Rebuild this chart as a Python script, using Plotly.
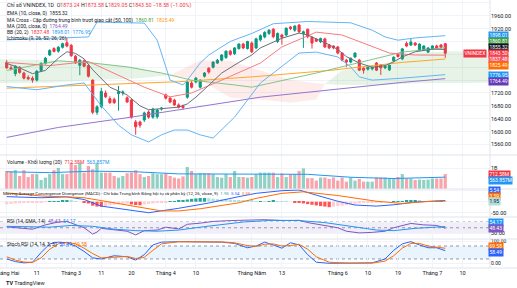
import pandas as pd
import plotly.graph_objects as go
from plotly.subplots import make_subplots

# ---------------- calendar (trading days) ----------------
HOLIDAYS = ["2026-02-16", "2026-02-17", "2026-02-18", "2026-02-19", "2026-02-20",
            "2026-04-27", "2026-04-30", "2026-05-01"]
cal = [d.strftime("%Y-%m-%d") for d in pd.bdate_range("2026-01-26", "2026-07-31")]
cal = [d for d in cal if d not in HOLIDAYS]
FIRST = cal.index("2026-02-02")


def pos(date_str):
    """trading-day position of a date (0 = first candle)"""
    return cal.index(date_str) - FIRST


# ---------------- price data ----------------
open_ = [1815, 1798, 1780, 1800, 1782, 1768, 1766, 1760, 1790, 1812, 1838, 1858, 1850, 1862, 1876, 1868, 1834, 1806,
         1820, 1805, 1760, 1660, 1678, 1720, 1702, 1700, 1718, 1720, 1705, 1698, 1630, 1630, 1636, 1661, 1645, 1646,
         1670, 1714, 1704, 1698, 1683, 1680, 1707, 1751, 1754, 1738, 1772, 1797, 1800, 1813, 1822, 1830, 1850, 1842,
         1858, 1872, 1858, 1875, 1860, 1885, 1894, 1905, 1918, 1880, 1900, 1900, 1925, 1915, 1931, 1905, 1918, 1893,
         1887, 1879, 1888, 1869, 1866, 1863, 1844, 1822, 1816, 1832, 1822, 1797, 1794, 1795, 1813, 1807, 1798, 1792,
         1820, 1840, 1826, 1874, 1869, 1875, 1853, 1853, 1847, 1857, 1866, 1869, 1873.24]
high = [1822, 1806, 1806, 1803, 1786, 1775, 1772, 1790, 1815, 1832, 1856, 1862, 1866, 1876, 1892, 1872, 1838, 1826,
        1824, 1808, 1762, 1682, 1736, 1728, 1710, 1706, 1742, 1728, 1710, 1702, 1636, 1634, 1662, 1666, 1674, 1670,
        1676, 1718, 1708, 1702, 1688, 1684, 1758, 1758, 1770, 1762, 1785, 1800, 1818, 1826, 1840, 1852, 1854, 1862,
        1874, 1876, 1882, 1880, 1892, 1902, 1912, 1918, 1922, 1908, 1904, 1924, 1928, 1930, 1934, 1914, 1920, 1896,
        1890, 1892, 1892, 1872, 1868, 1866, 1846, 1826, 1830, 1846, 1826, 1800, 1802, 1802, 1816, 1810, 1806, 1808,
        1834, 1844, 1860, 1880, 1891, 1878, 1874, 1868, 1862, 1868, 1870, 1872, 1873.58]
low = [1795, 1790, 1772, 1780, 1762, 1760, 1752, 1756, 1786, 1808, 1835, 1846, 1845, 1858, 1862, 1832, 1810, 1775,
       1800, 1768, 1654, 1652, 1672, 1704, 1686, 1686, 1665, 1712, 1690, 1640, 1590, 1612, 1630, 1640, 1640, 1640,
       1665, 1700, 1688, 1680, 1672, 1668, 1702, 1734, 1750, 1734, 1768, 1780, 1796, 1810, 1818, 1826, 1836, 1838,
       1855, 1856, 1855, 1844, 1856, 1880, 1890, 1900, 1890, 1875, 1870, 1896, 1915, 1910, 1906, 1860, 1890, 1858,
       1878, 1875, 1860, 1856, 1856, 1840, 1818, 1800, 1812, 1828, 1788, 1780, 1790, 1790, 1788, 1776, 1794, 1788,
       1816, 1830, 1822, 1862, 1866, 1866, 1850, 1850, 1844, 1854, 1858, 1858, 1829.05]
close = [1798, 1794, 1803, 1784, 1766, 1764, 1760, 1788, 1812, 1828, 1852, 1849, 1862, 1873, 1866, 1836, 1814, 1822,
         1803, 1772, 1660, 1677, 1725, 1708, 1690, 1690, 1724, 1723, 1692, 1645, 1615, 1620, 1658, 1645, 1670, 1667,
         1673, 1704, 1692, 1683, 1676, 1675, 1754, 1738, 1766, 1760, 1782, 1785, 1816, 1822, 1838, 1850, 1840, 1860,
         1872, 1860, 1880, 1848, 1888, 1898, 1908, 1915, 1895, 1905, 1893, 1921, 1920, 1928, 1910, 1910, 1895, 1875,
         1881, 1889, 1863, 1860, 1860, 1844, 1822, 1816, 1828, 1844, 1791, 1791, 1800, 1800, 1791, 1798, 1803, 1806,
         1831, 1833, 1857, 1866, 1878, 1869, 1872, 1866, 1860, 1866, 1860, 1862.08, 1843.50]
volume_b = [0.86, 0.83, 0.9, 0.62, 0.9, 0.57, 0.71, 0.71, 0.43, 0.54, 0.71, 0.9, 1.0, 0.71, 0.71, 1.25, 1.14, 1.25,
            0.78, 1.1, 0.94, 1.25, 0.78, 0.78, 0.78, 0.62, 0.54, 0.62, 0.75, 0.78, 0.9, 0.71, 0.57, 0.62, 0.75, 0.71,
            0.71, 0.75, 0.62, 0.54, 0.5, 0.6, 1.05, 0.86, 0.71, 0.75, 0.75, 0.75, 0.71, 0.57, 0.54, 0.71, 0.57, 0.86,
            0.57, 0.57, 0.54, 0.57, 0.7, 0.78, 0.78, 0.78, 0.78, 0.57, 0.74, 0.57, 0.7, 0.7, 0.86, 0.98, 0.52, 0.52,
            0.4, 0.55, 0.55, 0.48, 0.55, 0.4, 0.55, 0.35, 0.55, 0.4, 0.48, 0.35, 0.35, 0.35, 0.55, 0.55, 0.55, 0.5,
            0.52, 0.57, 0.71, 0.5, 0.5, 0.43, 0.45, 0.43, 0.45, 0.5, 0.5, 0.5, 0.71258]
macd_hist = [-12, -10, -8, -7, -6, -5, -4, -3, -2, -1, 1, 2, 3, 4, 5, 4, 2, 0, -3, -8, -18, -22, -23, -20, -17, -14,
             -12, -10, -9, -12, -15, -16, -13, -10, -8, -6, -4, -2, 1, 3, 5, 7, 10, 13, 15, 17, 17, 16, 14, 12, 11, 10,
             9, 8, 7, 6, 5, 4, 3, 3, 2, 3, 4, 3, 2, 1, 0, -2, -5, -8, -11, -14, -17, -20, -22, -25, -23, -20, -18, -15,
             -12, -10, -8, -6, -5, -4, -3, -2, -1, 0, 1, 2, 3, 4, 4, 5, 4, 3, 3, 2, 2, 2, 1.95]

# ---------------- indicator lines (sampled: trading-day index, value) ----------------
ema10_idx = [0, 3, 6, 9, 12, 14, 16, 18, 20, 24, 28, 31, 33, 36, 40, 42, 44, 47, 50, 54, 57, 59, 64, 68, 70, 75, 77,
             79, 82, 85, 88, 90, 92, 95, 99, 102]
ema10_val = [1812, 1798, 1780, 1790, 1828, 1848, 1843, 1826, 1792, 1738, 1714, 1680, 1668, 1672, 1676, 1686, 1707,
             1744, 1782, 1815, 1838, 1860, 1890, 1906, 1900, 1870, 1855, 1833, 1813, 1800, 1805, 1817, 1832, 1848,
             1856, 1855.32]
ma50_idx = [0, 12, 20, 28, 36, 43, 53, 57, 72, 84, 92, 102]
ma50_val = [1790, 1820, 1813, 1801, 1782, 1760, 1745, 1738, 1782, 1822, 1847, 1860.81]
ma100_idx = [0, 20, 40, 57, 75, 92, 102]
ma100_val = [1735, 1745, 1755, 1770, 1790, 1815, 1825.49]
ma200_idx = [0, 12, 29, 59, 92, 102]
ma200_val = [1582, 1613, 1645, 1707, 1753, 1764.49]
bbu_idx = [0, 10, 19, 21, 32, 35, 38, 41, 42, 45, 47, 52, 57, 62, 70, 80, 85, 88, 91, 95, 102]
bbu_val = [1885, 1890, 1894, 1940, 1937, 1884, 1760, 1745, 1760, 1813, 1838, 1880, 1905, 1935, 1942, 1938, 1915, 1894,
           1884, 1891, 1898.01]
bbl_idx = [0, 7, 14, 18, 22, 26, 29, 33, 36, 39, 42, 45, 48, 53, 59, 66, 68, 72, 77, 80, 82, 85, 92, 102]
bbl_val = [1740, 1730, 1745, 1751, 1680, 1620, 1590, 1568, 1590, 1605, 1605, 1590, 1580, 1645, 1751, 1822, 1844, 1847,
           1832, 1801, 1770, 1760, 1766, 1776.95]
bbm_idx = [0, 10, 19, 22, 27, 32, 38, 43, 50, 59, 64, 72, 78, 84, 89, 95, 102]
bbm_val = [1815, 1805, 1818, 1800, 1770, 1738, 1708, 1720, 1760, 1813, 1863, 1909, 1900, 1869, 1844, 1838, 1837.48]
# Ichimoku cloud segments (span A, span B); shared points mark crossovers
cloud_green1_idx = [-2, 10, 20, 30, 38]
cloud_green1_a = [1825, 1822, 1815, 1800, 1775]
cloud_green1_b = [1750, 1752, 1760, 1765, 1775]
cloud_red_idx = [38, 45, 52, 59, 66, 72, 74]
cloud_red_a = [1775, 1760, 1705, 1700, 1690, 1700, 1748]
cloud_red_b = [1775, 1822, 1820, 1790, 1760, 1750, 1748]
cloud_green2_idx = [74, 78, 87, 95, 104, 113]
cloud_green2_a = [1748, 1790, 1805, 1845, 1850, 1848]
cloud_green2_b = [1748, 1745, 1745, 1750, 1752, 1752]

volma_idx = [0, 10, 20, 30, 40, 50, 60, 70, 80, 90, 102]
volma_val = [0.82, 0.78, 0.85, 0.82, 0.72, 0.72, 0.70, 0.70, 0.56, 0.50, 0.563857]
macd_idx = [0, 8, 14, 18, 22, 30, 33, 40, 47, 54, 58, 64, 68, 72, 77, 81, 86, 90, 95, 102]
macd_val = [23, 18, 22, 10, -20, -42, -50, -30, -6, 23, 38, 50, 53, 30, 2, -15, -20, -14, -2, 5.54]
sig_idx = [0, 8, 14, 18, 22, 30, 36, 40, 45, 54, 58, 64, 69, 77, 86, 92, 97, 102]
sig_val = [40, 26, 22, 18, 5, -23, -42, -42, -32, -5, 15, 38, 45, 28, 2, -8, 0, 3.59]
rsi_idx = [0, 3, 6, 9, 12, 14, 16, 18, 20, 21, 22, 25, 28, 30, 32, 35, 37, 40, 42, 45, 48, 52, 56, 60, 64, 68, 70, 74,
           77, 79, 82, 85, 88, 90, 92, 94, 97, 100, 102]
rsi_val = [53, 48, 45, 60, 70, 72, 62, 50, 28, 35, 48, 42, 38, 25, 40, 42, 52, 46, 62, 66, 72, 75, 76, 78, 75, 76, 68,
           58, 50, 38, 32, 34, 38, 50, 58, 65, 60, 58, 48.43]
rsima_idx = [0, 10, 15, 20, 25, 30, 35, 40, 45, 50, 55, 62, 68, 74, 80, 86, 90, 95, 102]
rsima_val = [55, 52, 58, 55, 45, 40, 38, 42, 52, 62, 70, 76, 75, 68, 56, 42, 40, 48, 54.17]
k_idx = [0, 2, 4, 6, 8, 10, 12, 14, 16, 18, 20, 22, 25, 28, 30, 32, 34, 36, 40, 45, 50, 53, 56, 58, 60, 62, 64, 66, 68,
         70, 72, 75, 80, 85, 88, 90, 92, 94, 96, 98, 100, 102]
k_val = [20, 8, 2, 5, 50, 90, 98, 95, 80, 55, 25, 20, 35, 30, 15, 40, 85, 98, 100, 100, 98, 92, 72, 80, 98, 85, 70, 95,
         85, 40, 5, 0, 0, 2, 20, 60, 90, 100, 85, 72, 72, 58.49]
d_idx = k_idx
d_val = [30, 15, 6, 4, 25, 65, 90, 97, 90, 70, 45, 25, 28, 32, 22, 28, 60, 90, 100, 100, 99, 95, 82, 78, 88, 90, 80, 82,
         88, 65, 30, 5, 0, 1, 10, 35, 70, 92, 92, 80, 75, 69.58]

# x-axis tick labels
tick_days = ["2026-02-02", "2026-02-11", "2026-03-02", "2026-03-11", "2026-03-20", "2026-04-01", "2026-04-10",
             "2026-05-04", "2026-05-13", "2026-06-01", "2026-06-10", "2026-06-19", "2026-07-01", "2026-07-10"]
tick_text = ["Tháng Hai", "11", "Tháng 3", "11", "20", "Tháng 4", "10", "Tháng Năm", "13", "Tháng 6", "10", "19",
             "Tháng 7", "10"]

# ---------------- styles ----------------
UP, DOWN = "#089981", "#f23645"
TXT = "#131722"
FONT = "Roboto"
W, H = 517, 288
PLOT_W, PLOT_H = 490, 268
PANES = [(0, 155), (155, 189), (189, 217), (217, 239), (239, 268)]

fig = make_subplots(rows=5, cols=1, shared_xaxes=True, vertical_spacing=0,
                    row_heights=[b - a for a, b in PANES])

xpos = list(range(len(close)))  # one slot per trading day


def line(idx, val, color, row, width=1.0):
    fig.add_trace(go.Scatter(x=idx, y=val, mode="lines", line=dict(color=color, width=width),
                             hoverinfo="skip"), row=row, col=1)


# Ichimoku cloud
for idx, a, b, col in [(cloud_green1_idx, cloud_green1_a, cloud_green1_b, "rgba(67,160,71,0.13)"),
                       (cloud_red_idx, cloud_red_a, cloud_red_b, "rgba(244,67,54,0.10)"),
                       (cloud_green2_idx, cloud_green2_a, cloud_green2_b, "rgba(67,160,71,0.13)")]:
    fig.add_trace(go.Scatter(x=idx + idx[::-1], y=a + b[::-1], fill="toself", fillcolor=col,
                             line=dict(width=0), mode="lines", hoverinfo="skip"), row=1, col=1)

line(ma200_idx, ma200_val, "#9575cd", 1)
line(ma100_idx, ma100_val, "#ffa726", 1)
line(ma50_idx, ma50_val, "#81c784", 1)
line(bbu_idx, bbu_val, "#64b5f6", 1)
line(bbl_idx, bbl_val, "#64b5f6", 1)
line(bbm_idx, bbm_val, "#f77c80", 1)
line(ema10_idx, ema10_val, "#6a6d78", 1)

fig.add_trace(go.Candlestick(x=xpos, open=open_, high=high, low=low, close=close,
                             increasing=dict(line=dict(color=UP, width=1), fillcolor=UP),
                             decreasing=dict(line=dict(color=DOWN, width=1), fillcolor=DOWN),
                             whiskerwidth=0, hoverinfo="skip"), row=1, col=1)

# volume
vol_colors = ["rgba(8,153,129,0.45)" if c >= o else "rgba(242,54,69,0.45)" for o, c in zip(open_, close)]
fig.add_trace(go.Bar(x=xpos, y=[v * 1e9 for v in volume_b], marker=dict(color=vol_colors, line=dict(width=0)),
                     hoverinfo="skip"), row=2, col=1)
line(volma_idx, [v * 1e9 for v in volma_val], "#2196f3", 2)

# MACD
hist_colors = []
for i, h in enumerate(macd_hist):
    prev = macd_hist[i - 1] if i else h
    if h >= 0:
        hist_colors.append("#26a69a" if h >= prev else "#b2dfdb")
    else:
        hist_colors.append("#ffcdd2" if h >= prev else "#ff5252")
fig.add_trace(go.Bar(x=xpos, y=macd_hist, marker=dict(color=hist_colors, line=dict(width=0)), hoverinfo="skip"),
              row=3, col=1)
line(macd_idx, macd_val, "#2962ff", 3)
line(sig_idx, sig_val, "#ff6d00", 3)

# RSI
line(rsi_idx, rsi_val, "#7e57c2", 4)
line(rsima_idx, rsima_val, "#2196f3", 4)

# Stoch RSI
line(k_idx, k_val, "#2962ff", 5)
line(d_idx, d_val, "#ff6d00", 5)

# ---------------- axes ----------------
fig.update_xaxes(range=[-1.56, 112.4], showgrid=True, gridcolor="#f0f3fa", gridwidth=1,
                 tickvals=[pos(t) for t in tick_days], ticktext=tick_text,
                 showline=False, zeroline=False, ticks="", rangeslider=dict(visible=False),
                 ticklabeloverflow="allow", automargin=False,
                 tickfont=dict(size=5.5, color=TXT, family=FONT))
for r in range(1, 5):
    fig.update_xaxes(showticklabels=False, row=r, col=1)

yax_common = dict(side="right", showgrid=True, gridcolor="#f0f3fa", zeroline=False, showline=False, ticks="",
                  automargin=False, tickfont=dict(size=5.5, color=TXT, family=FONT), fixedrange=True)
price_ticks = list(range(1560, 2001, 40))
price_text = ["" if 1750 < p < 1900 else f"{p:.2f}" for p in price_ticks]
fig.update_yaxes(range=[1527.4, 2008.8], tickvals=price_ticks, ticktext=price_text, row=1, col=1, **yax_common)
fig.update_yaxes(range=[0, 1.62e9], tickvals=[1e9], ticktext=["1B"], row=2, col=1, **yax_common)
fig.update_yaxes(range=[-69.5, 57.7], tickvals=[-50, 0, 50], ticktext=["-50.00", "", ""], row=3, col=1, **yax_common)
fig.update_yaxes(range=[10.9, 87.4], tickvals=[30, 70], ticktext=["30.00", ""], row=4, col=1, **yax_common)
fig.update_yaxes(range=[-21.8, 112.5], tickvals=[0, 50, 100], ticktext=["0.00", "", "100.00"], row=5, col=1,
                 **yax_common)
fig.update_yaxes(tickfont=dict(size=5), row=5, col=1)

shapes = []


def py(pix):
    return 1 - pix / PLOT_H


# band fills & dotted levels
for yref, lo, hi, col, levels in [("y4", 30, 70, "rgba(126,87,194,0.10)", [70, 50, 30]),
                                  ("y5", 20, 80, "rgba(33,150,243,0.10)", [80, 20])]:
    shapes.append(dict(type="rect", xref="x domain", yref=yref, x0=0, x1=1, y0=lo, y1=hi, fillcolor=col,
                       line=dict(width=0), layer="below"))
    for lv in levels:
        shapes.append(dict(type="line", xref="x domain", yref=yref, x0=0, x1=1, y0=lv, y1=lv,
                           line=dict(color="#9598a1", width=1, dash="dot"), layer="below"))
# pane separators
for a, b in PANES[1:]:
    shapes.append(dict(type="line", xref="paper", yref="paper", x0=0, x1=W / PLOT_W, y0=py(a), y1=py(a),
                       line=dict(color="#e0e3eb", width=1)))
shapes.append(dict(type="line", xref="paper", yref="paper", x0=0, x1=W / PLOT_W, y0=0, y1=0,
                   line=dict(color="#e0e3eb", width=1)))
shapes.append(dict(type="line", xref="paper", yref="paper", x0=1, x1=1, y0=0, y1=1,
                   line=dict(color="#e0e3eb", width=1)))

# ---------------- texts ----------------
ann = []


def span(t, c):
    return f"<span style='color:{c}'>{t}</span>"


def label(txt, ypix, xpix=5, size=5.0):
    ann.append(dict(text=txt, xref="paper", yref="paper", x=xpix / PLOT_W, y=py(ypix), xanchor="left",
                    yanchor="middle", showarrow=False, font=dict(size=size, color=TXT, family=FONT)))


chg = close[-1] - close[-2]
pct = chg / close[-2] * 100
R = DOWN if chg < 0 else UP
label("Chỉ số VNINDEX, 1D  " + " ".join(
    [f"{k}{span(f'{v:.2f}', R)}" for k, v in zip("OHLC", [open_[-1], high[-1], low[-1], close[-1]])])
      + " " + span(f"{chg:.2f} ({pct:.2f}%)".replace("-", "−"), R), 5.5, size=5.3)
label("EMA (10, close, 0)  " + span(f"{ema10_val[-1]:.2f}", TXT), 13.3)
label("MA Cross - Cặp đường trung bình trượt giao cắt (50, 100)  " + span(f"{ma50_val[-1]:.2f}", "#43a047") + "  "
      + span(f"{ma100_val[-1]:.2f}", "#ff9800"), 20)
label("MA (200, close, 0)  " + span(f"{ma200_val[-1]:.2f}", "#7e57c2"), 26.5)
label("BB (20, 2)  " + span(f"{bbm_val[-1]:.2f}", DOWN) + "  " + span(f"{bbu_val[-1]:.2f}", "#2196f3") + "  "
      + span(f"{bbl_val[-1]:.2f}", "#2196f3"), 32.5)
label("Ichimoku (9, 26, 52, 26, 26)", 38.5)
label("Volume - Khối lượng (20)  " + span(f"{volume_b[-1] * 1000:.2f}M", DOWN) + "  "
      + span(f"{volma_val[-1] * 1000:.3f}M", "#2196f3"), 162)
label("Moving Average Convergence Divergence (MACD) - Chỉ báo Trung bình Động hội tụ và phân kỳ (12, 26, close, 9)  "
      + span(f"{macd_hist[-1]:.2f}", "#26a69a") + "  " + span(f"{macd_val[-1]:.2f}", "#2962ff") + "  "
      + span(f"{sig_val[-1]:.2f}", "#ff6d00"), 193, xpix=1, size=4.4)
label("RSI (14, SMA, 14)  " + span(f"{rsi_val[-1]:.2f}", "#7e57c2") + "  " + span(f"{rsima_val[-1]:.2f}", "#2196f3"),
      221)
label("Stoch RSI (14, 14, 3, 3)  " + span(f"{k_val[-1]:.2f}", "#2962ff") + "  " + span(f"{d_val[-1]:.2f}", "#ff6d00"),
      244)
label("<b>TV</b> TradingView", 282.5, xpix=4, size=5.5)


def badge(txt, ypix, bg, fg="white"):
    ann.append(dict(text=txt, xref="paper", yref="paper", x=488 / PLOT_W, y=py(ypix), xanchor="left",
                    yanchor="middle", showarrow=False, bgcolor=bg, borderpad=0.4,
                    font=dict(size=5.0, color=fg, family=FONT)))


badge(f"{bbu_val[-1]:.2f}", 35.3, "#2196f3")
badge(f"{ma50_val[-1]:.2f}", 41.5, "#43a047")
badge(f"{ema10_val[-1]:.2f}", 47.5, TXT)
badge(f"{close[-1]:.2f}", 53.5, DOWN)
badge(f"{bbm_val[-1]:.2f}", 59.5, "#f7525f")
badge(f"{ma100_val[-1]:.2f}", 65.5, "#ff6d00")
badge(f"{bbl_val[-1]:.2f}", 75.7, "#2196f3")
badge(f"{ma200_val[-1]:.2f}", 81.2, "#673ab7")
badge(f"{volume_b[-1] * 1000:.2f}M", 174, DOWN)
badge(f"{volma_val[-1] * 1000:.3f}M", 180, "#2196f3")
badge(f"{macd_val[-1]:.2f}", 190.2, "#2962ff")
badge(f"{sig_val[-1]:.2f}", 196, "#ff6d00")
badge(f"{macd_hist[-1]:.2f}", 201.8, "#b2dfdb", TXT)
badge(f"{rsima_val[-1]:.2f}", 222.7, "#2196f3")
badge(f"{rsi_val[-1]:.2f}", 228.2, "#7e57c2")
badge(f"{d_val[-1]:.2f}", 246.5, "#ff6d00")
badge(f"{k_val[-1]:.2f}", 252, "#2962ff")
ann.append(dict(text="VNINDEX", xref="paper", yref="paper", x=487 / PLOT_W, y=py(53.5), xanchor="right",
                yanchor="middle", showarrow=False, bgcolor=DOWN, borderpad=0.4,
                font=dict(size=5.0, color="white", family=FONT)))

fig.update_layout(width=W, height=H, margin=dict(l=0, r=W - PLOT_W, t=0, b=H - PLOT_H),
                  paper_bgcolor="white", plot_bgcolor="white", showlegend=False, bargap=0.25,
                  shapes=shapes, annotations=ann, font=dict(family=FONT, color=TXT), hovermode=False)
fig.write_html("out.html")
